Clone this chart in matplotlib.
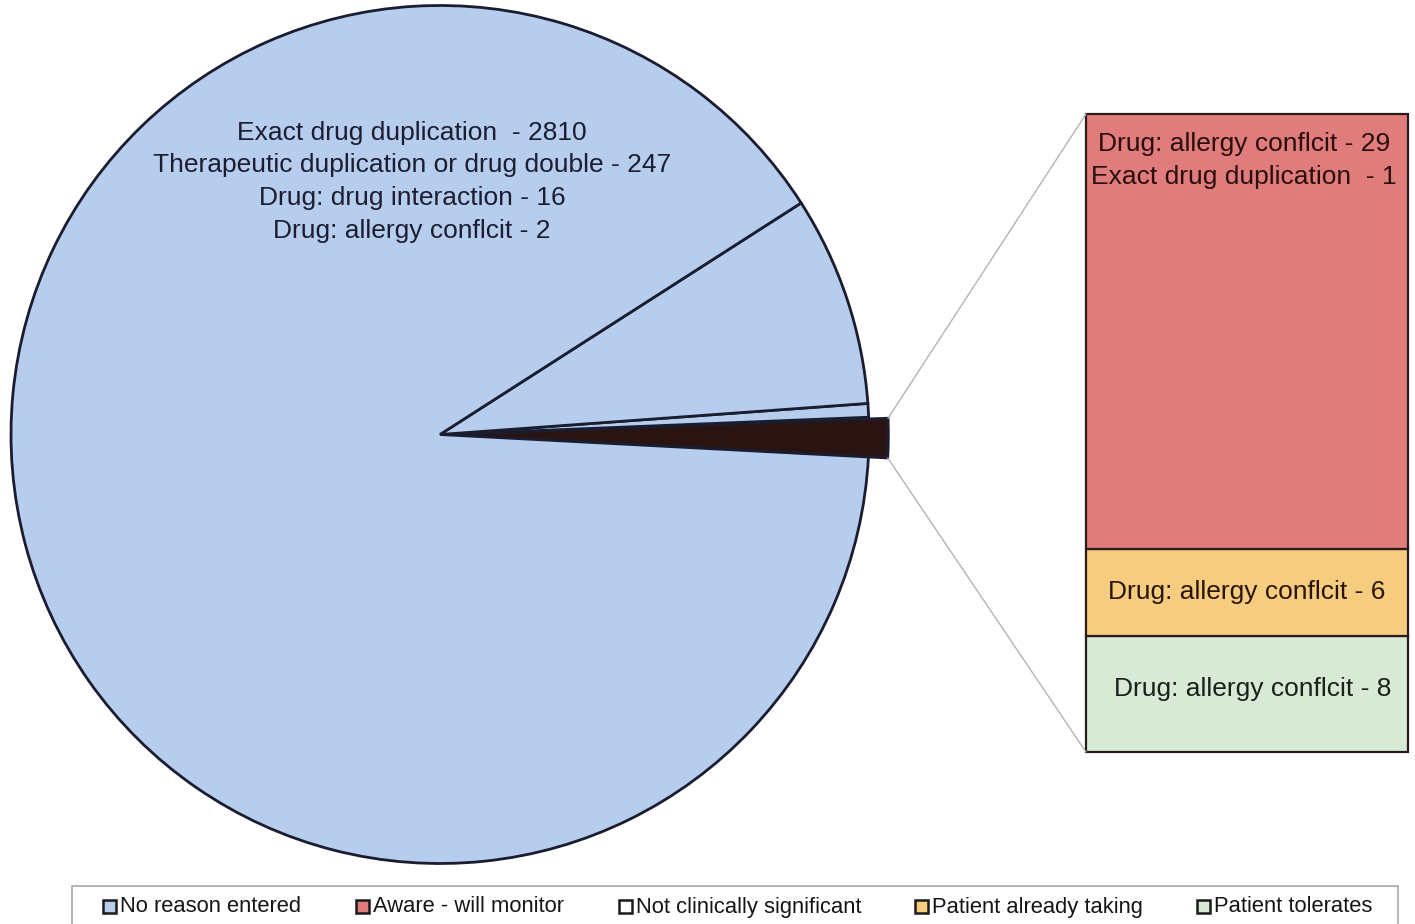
import matplotlib
matplotlib.use("Agg")
import numpy as np
import matplotlib.pyplot as plt
from matplotlib.patches import Rectangle, ConnectionPatch

plt.rcParams['font.family'] = ['Liberation Sans', 'DejaVu Sans']

# ---- data -------------------------------------------------------------
# "No reason entered" overrides, broken down by alert type
no_reason_types = ["Exact drug duplication ", "Therapeutic duplication or drug double",
                   "Drug: drug interaction", "Drug: allergy conflcit"]
no_reason_counts = [2810, 247, 16, 2]

# Remaining override reasons, shown in the stacked bar
aware_types = ["Drug: allergy conflcit", "Exact drug duplication "]
aware_counts = [29, 1]
already_types = ["Drug: allergy conflcit"]
already_counts = [6]
tolerates_types = ["Drug: allergy conflcit"]
tolerates_counts = [8]

legend_labels = ["No reason entered", "Aware - will monitor", "Not clinically significant",
                 "Patient already taking", "Patient tolerates"]

# ---- styling ----------------------------------------------------------
BLUE = "#b6cdee"
RED = "#e07c7b"
WHITE = "#ffffff"
YELLOW = "#f6cd7f"
GREEN = "#d8ead6"
DARK = "#2a1411"
PIE_EDGE = "#1a1c30"
BAR_EDGE = "#2a1a18"
legend_colors = [BLUE, RED, WHITE, YELLOW, GREEN]

W, H = 1415, 924
fig = plt.figure(figsize=(W / 100, H / 100), dpi=100)
ax = fig.add_axes([0, 0, 1, 1])

# ---- pie --------------------------------------------------------------
other_total = sum(aware_counts) + sum(already_counts) + sum(tolerates_counts)
pie_values = [other_total] + no_reason_counts[::-1]
pie_colors = [DARK] + [BLUE] * len(no_reason_counts)
R = 429
wedges, _ = ax.pie(pie_values, colors=pie_colors, startangle=-3.0, counterclock=True,
                   radius=R, center=(440, H - 434.5),
                   wedgeprops=dict(edgecolor=PIE_EDGE, linewidth=2))
# the aggregated slice sticks out a little past the rim
wedges[0].set_radius(R * 1.045)
ax.set_xlim(0, W)
ax.set_ylim(0, H)
ax.axis('off')

pie_text_y = [133, 165, 198, 231]
for (name, cnt), y in zip(zip(no_reason_types, no_reason_counts), pie_text_y):
    ax.text(412, H - y, f"{name} - {cnt}", ha='center', va='center',
            fontsize=19, color="#1c1d30")

# ---- stacked bar ------------------------------------------------------
ax_bar = fig.add_axes([1086 / W, (H - 752) / H, 322 / W, 638 / H])
segments = [(sum(tolerates_counts), GREEN), (sum(already_counts), YELLOW),
            (sum(aware_counts), RED)]
bottom = 0
for cnt, col in segments:
    ax_bar.bar(0.5, cnt, width=1.0, bottom=bottom, color=col, edgecolor=BAR_EDGE,
               linewidth=1.6, clip_on=False)
    bottom += cnt
ax_bar.set_xlim(0, 1)
ax_bar.set_ylim(0, other_total)
ax_bar.axis('off')

top = other_total
aware_y = [top - 2.05, top - 4.32]
for (name, cnt), y in zip(zip(aware_types, aware_counts), aware_y):
    ax_bar.text(0.49, y, f"{name} - {cnt}", ha='center', va='center',
                fontsize=19, color="#2a0e0e")
y_already = sum(tolerates_counts) + sum(already_counts) / 2
ax_bar.text(0.5, y_already + 0.05, f"{already_types[0]} - {already_counts[0]}",
            ha='center', va='center', fontsize=19, color="#2a1408")
y_tol = sum(tolerates_counts) / 2
ax_bar.text(0.518, y_tol + 0.35, f"{tolerates_types[0]} - {tolerates_counts[0]}",
            ha='center', va='center', fontsize=19, color="#16221a")

# ---- connector lines from the slice to the bar ------------------------
w = wedges[0]
cx, cy = w.center
for theta, yb in [(w.theta2, 1.0), (w.theta1, 0.0)]:
    px = cx + w.r * np.cos(np.radians(theta))
    py = cy + w.r * np.sin(np.radians(theta))
    con = ConnectionPatch(xyA=(px, py), coordsA=ax.transData,
                          xyB=(0.0, yb), coordsB=ax_bar.transAxes,
                          color="#b4b4b4", linewidth=1.0)
    fig.add_artist(con)

# ---- legend -----------------------------------------------------------
ax.add_patch(Rectangle((72, -10), 1398 - 72, (H - 886) + 10, facecolor='white',
                       edgecolor="#a8a8a8", linewidth=1.2, clip_on=False))
square_x = [103, 356, 619, 915, 1197]
for x, col, lab in zip(square_x, legend_colors, legend_labels):
    ax.add_patch(Rectangle((x, H - 913), 13, 13, facecolor=col, edgecolor="#1a1a1a",
                           linewidth=1.8))
    ax.text(x + 17, H - 907, lab, ha='left', va='center', fontsize=15.8, color="#151515")

fig.savefig("out.png", dpi=100, facecolor='white')
